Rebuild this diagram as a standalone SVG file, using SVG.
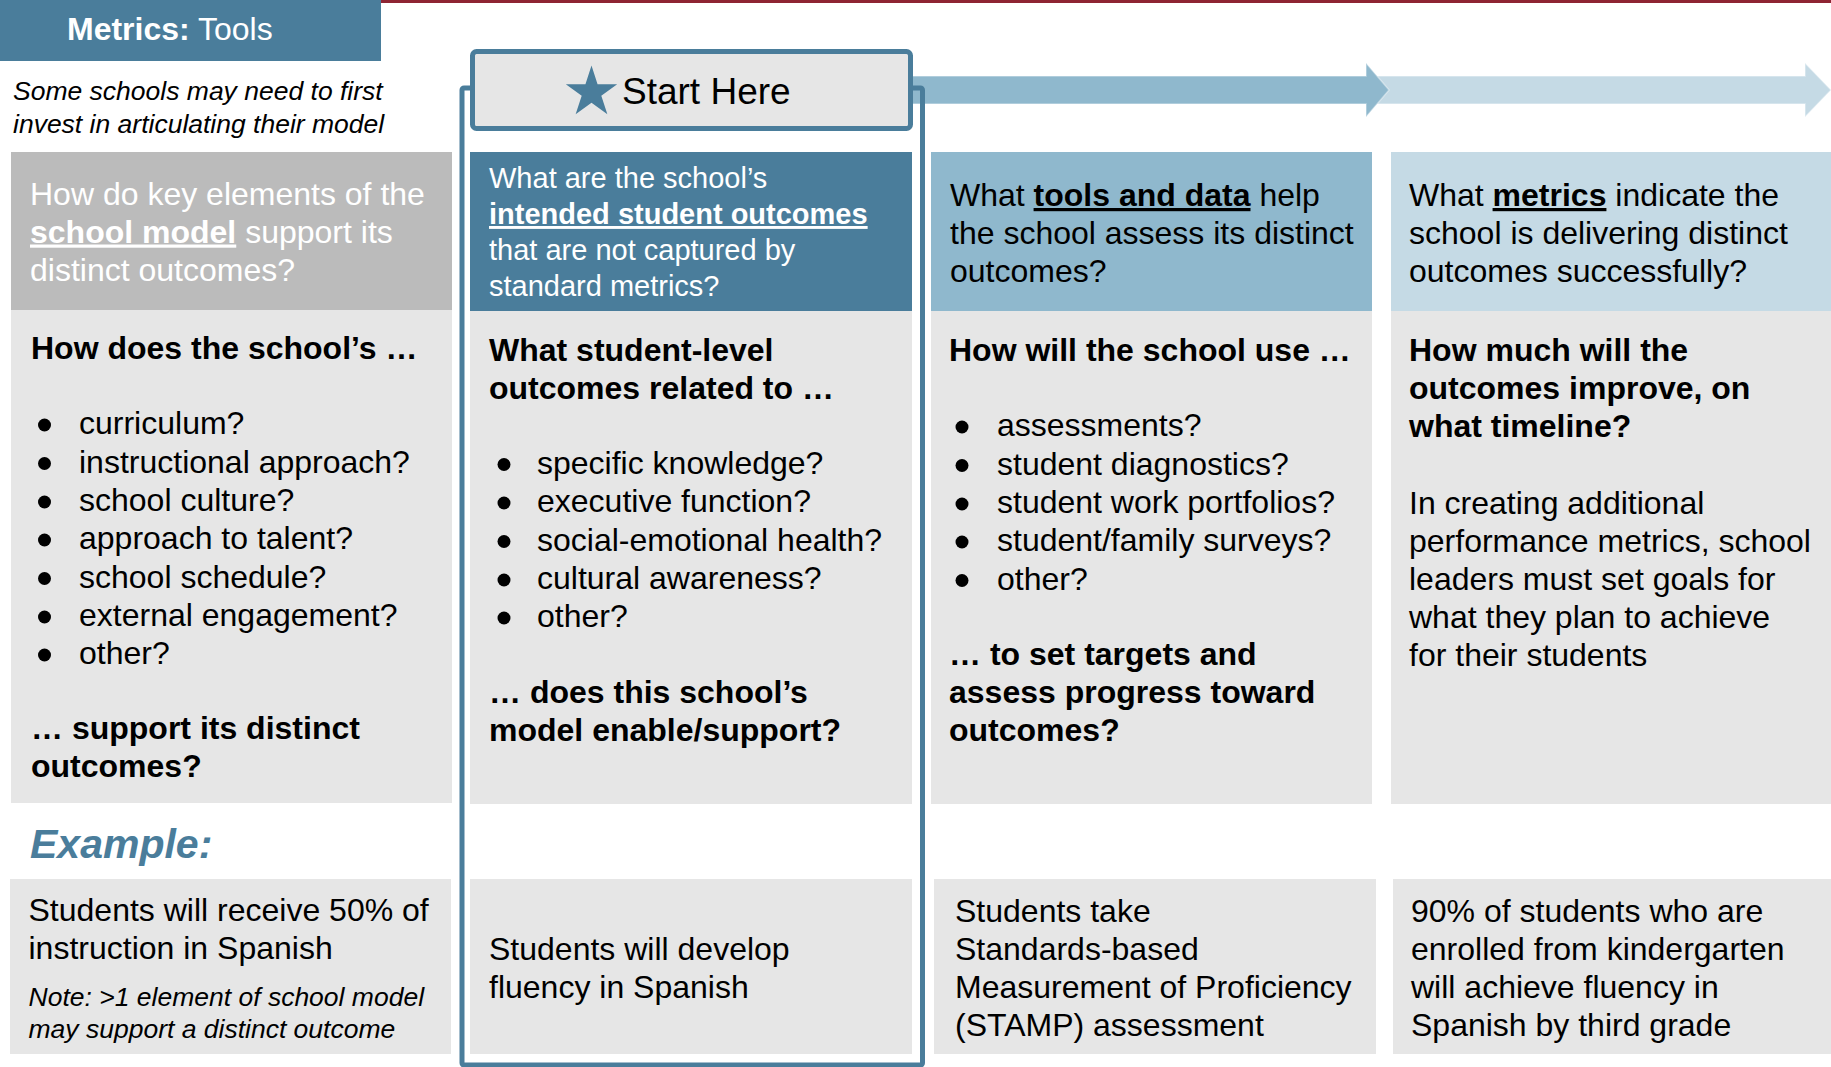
<svg xmlns="http://www.w3.org/2000/svg" width="1831" height="1067" viewBox="0 0 1831 1067">
<style>
  text { font-family: "Liberation Sans", Arial, Helvetica, sans-serif; fill: #000; }
  .f32 { font-size: 32px; }
  .f29 { font-size: 29px; }
  .f26 { font-size: 26.5px; }
  .b { font-weight: bold; }
  .i { font-style: italic; }
  .u { text-decoration: underline; }
  .w { fill: #ffffff; }
  .body { fill: #E6E6E6; }
  .dot { fill: #000; }
  .blue { fill: #4A7D9B; }
</style>

<rect x="0" y="0" width="1831" height="3" fill="#8E2433"/>

<g id="title">
  <rect x="0" y="0" width="381" height="61" class="blue"/>
  <text x="67" y="40" style="font-size:32px" class="w"><tspan class="b w">Metrics:</tspan> Tools</text>
</g>

<g id="note">
  <text x="13" y="100" class="f26 i">Some schools may need to first</text>
  <text x="13" y="132.5" class="f26 i">invest in articulating their model</text>
</g>

<g id="connectors">
  <polygon points="1360,76 1805,76 1805,63 1831,90 1805,117 1805,104 1360,104" fill="#C5DAE5" stroke="#ffffff" stroke-opacity="0.4" stroke-width="1.5"/>
  <polygon points="900,76 1366,76 1366,63 1389,90 1366,117 1366,104 900,104" fill="#8FB8CD" stroke="#ffffff" stroke-opacity="0.4" stroke-width="1.5"/>
</g>

<g id="col1-header">
  <rect x="11" y="152" width="441" height="158" fill="#BBBBBB"/>
  <text x="30" y="204.5" class="f32 w">How do key elements of the</text>
  <text x="30" y="242.5" class="f32 w"><tspan class="b u w">school model</tspan> support its</text>
  <text x="30" y="280.5" class="f32 w">distinct outcomes?</text>
</g>

<g id="col1-body">
  <rect x="11" y="310" width="441" height="493" class="body"/>
  <text x="31" y="359" class="f32 b">How does the school’s …</text>
  <circle cx="44.5" cy="425" r="6.5" class="dot"/>
  <text x="79" y="434" class="f32">curriculum?</text>
  <circle cx="44.5" cy="463.5" r="6.5" class="dot"/>
  <text x="79" y="472.5" class="f32">instructional approach?</text>
  <circle cx="44.5" cy="502" r="6.5" class="dot"/>
  <text x="79" y="511" class="f32">school culture?</text>
  <circle cx="44.5" cy="540" r="6.5" class="dot"/>
  <text x="79" y="549" class="f32">approach to talent?</text>
  <circle cx="44.5" cy="578.5" r="6.5" class="dot"/>
  <text x="79" y="587.5" class="f32">school schedule?</text>
  <circle cx="44.5" cy="617" r="6.5" class="dot"/>
  <text x="79" y="626" class="f32">external engagement?</text>
  <circle cx="44.5" cy="655" r="6.5" class="dot"/>
  <text x="79" y="664" class="f32">other?</text>
  <text x="31" y="739" class="f32 b">… support its distinct</text>
  <text x="31" y="777" class="f32 b">outcomes?</text>
</g>

<g id="col2-header">
  <rect x="470" y="152" width="442" height="159" class="blue"/>
  <text x="489" y="188" class="f29 w">What are the school’s</text>
  <text x="489" y="224" class="f29 w b u">intended student outcomes</text>
  <text x="489" y="260" class="f29 w">that are not captured by</text>
  <text x="489" y="296" class="f29 w">standard metrics?</text>
</g>

<g id="col2-body">
  <rect x="470" y="311" width="442" height="493" class="body"/>
  <text x="489" y="361" class="f32 b">What student-level</text>
  <text x="489" y="399" class="f32 b">outcomes related to …</text>
  <circle cx="504" cy="464.5" r="6.5" class="dot"/>
  <text x="537" y="473.5" class="f32">specific knowledge?</text>
  <circle cx="504" cy="503" r="6.5" class="dot"/>
  <text x="537" y="512" class="f32">executive function?</text>
  <circle cx="504" cy="541.5" r="6.5" class="dot"/>
  <text x="537" y="550.5" class="f32">social-emotional health?</text>
  <circle cx="504" cy="580" r="6.5" class="dot"/>
  <text x="537" y="589" class="f32">cultural awareness?</text>
  <circle cx="504" cy="618" r="6.5" class="dot"/>
  <text x="537" y="627" class="f32">other?</text>
  <text x="489" y="703" class="f32 b">… does this school’s</text>
  <text x="489" y="741" class="f32 b">model enable/support?</text>
</g>

<g id="col3-header">
  <rect x="931" y="152" width="441" height="159" fill="#8FB8CD"/>
  <text x="950" y="206" class="f32">What <tspan class="b u">tools and data</tspan> help</text>
  <text x="950" y="244" class="f32">the school assess its distinct</text>
  <text x="950" y="282" class="f32">outcomes?</text>
</g>

<g id="col3-body">
  <rect x="931" y="311" width="441" height="493" class="body"/>
  <text x="949" y="361" class="f32 b">How will the school use …</text>
  <circle cx="962" cy="427" r="6.5" class="dot"/>
  <text x="997" y="436" class="f32">assessments?</text>
  <circle cx="962" cy="465.5" r="6.5" class="dot"/>
  <text x="997" y="474.5" class="f32">student diagnostics?</text>
  <circle cx="962" cy="504" r="6.5" class="dot"/>
  <text x="997" y="513" class="f32">student work portfolios?</text>
  <circle cx="962" cy="542" r="6.5" class="dot"/>
  <text x="997" y="551" class="f32">student/family surveys?</text>
  <circle cx="962" cy="580.5" r="6.5" class="dot"/>
  <text x="997" y="589.5" class="f32">other?</text>
  <text x="949" y="665" class="f32 b">… to set targets and</text>
  <text x="949" y="703" class="f32 b">assess progress toward</text>
  <text x="949" y="741" class="f32 b">outcomes?</text>
</g>

<g id="col4-header">
  <rect x="1391" y="152" width="440" height="159" fill="#C5DAE5"/>
  <text x="1409" y="206" class="f32">What <tspan class="b u">metrics</tspan> indicate the</text>
  <text x="1409" y="244" class="f32">school is delivering distinct</text>
  <text x="1409" y="282" class="f32">outcomes successfully?</text>
</g>

<g id="col4-body">
  <rect x="1391" y="311" width="440" height="493" class="body"/>
  <text x="1409" y="361" class="f32 b">How much will the</text>
  <text x="1409" y="399" class="f32 b">outcomes improve, on</text>
  <text x="1409" y="437" class="f32 b">what timeline?</text>
  <text x="1409" y="513.5" class="f32">In creating additional</text>
  <text x="1409" y="551.5" class="f32">performance metrics, school</text>
  <text x="1409" y="589.5" class="f32">leaders must set goals for</text>
  <text x="1409" y="627.5" class="f32">what they plan to achieve</text>
  <text x="1409" y="665.5" class="f32">for their students</text>
</g>

<g id="example-label">
  <text x="30" y="858" style="font-size:41px" class="b i blue">Example:</text>
</g>

<g id="col1-example">
  <rect x="10" y="879" width="441" height="175" class="body"/>
  <text x="28.5" y="921" class="f32">Students will receive 50% of</text>
  <text x="28.5" y="958.5" class="f32">instruction in Spanish</text>
  <text x="28.5" y="1006" class="f26 i">Note: &gt;1 element of school model</text>
  <text x="28.5" y="1038" class="f26 i">may support a distinct outcome</text>
</g>

<g id="col2-example">
  <rect x="470" y="879" width="442" height="175" class="body"/>
  <text x="489" y="960" class="f32">Students will develop</text>
  <text x="489" y="998" class="f32">fluency in Spanish</text>
</g>

<g id="col3-example">
  <rect x="934" y="879" width="442" height="175" class="body"/>
  <text x="955" y="922" class="f32">Students take</text>
  <text x="955" y="960" class="f32">Standards-based</text>
  <text x="955" y="998" class="f32">Measurement of Proficiency</text>
  <text x="955" y="1036" class="f32">(STAMP) assessment</text>
</g>

<g id="col4-example">
  <rect x="1393" y="879" width="438" height="175" class="body"/>
  <text x="1411" y="922" class="f32">90% of students who are</text>
  <text x="1411" y="960" class="f32">enrolled from kindergarten</text>
  <text x="1411" y="998" class="f32">will achieve fluency in</text>
  <text x="1411" y="1036" class="f32">Spanish by third grade</text>
</g>

<g id="frame">
  <rect x="462" y="88" width="460.5" height="977" rx="2" fill="none" stroke="#4A7D9B" stroke-width="5"/>
</g>

<g id="start-here">
  <rect x="472.5" y="51.5" width="438" height="77" rx="4" fill="#E6E6E6" stroke="#4A7D9B" stroke-width="5"/>
  <polygon points="591.5,65.5 597.55,84.17 617.18,84.16 601.3,95.68 607.37,114.34 591.5,102.8 575.63,114.34 581.7,95.68 565.82,84.16 585.45,84.17" class="blue"/>
  <text x="622" y="104" style="font-size:37px">Start Here</text>
</g>
</svg>
